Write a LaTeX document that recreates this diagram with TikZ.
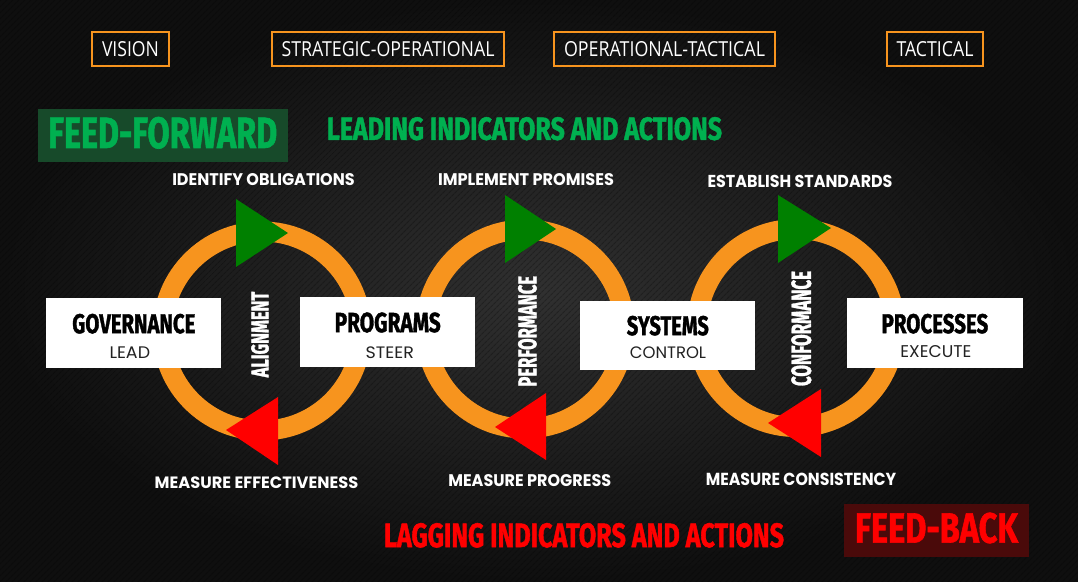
\documentclass[tikz,border=0pt]{standalone}
\usepackage{graphicx}
\usepackage{fontspec}
\setmainfont{Open Sans}
\newfontfamily\condf[BoldFeatures={FakeBold=1.6}]{Fira Sans}
\newfontfamily\labf{Poppins}
\newfontfamily\topf{Open Sans}
\usetikzlibrary{patterns.meta}
\definecolor{bgin}{HTML}{303030}
\definecolor{bgout}{HTML}{0F0F0F}
\definecolor{orangec}{HTML}{F7941E}
\definecolor{ffgreen}{HTML}{00B050}
\definecolor{ffbox}{HTML}{174A2A}
\definecolor{fbbox}{HTML}{4A0A0A}
\definecolor{trigreen}{HTML}{008000}
\definecolor{trired}{HTML}{FF0000}
\definecolor{subgray}{HTML}{222222}
\newcommand{\fitt}[3]{\resizebox{#1pt}{#2pt}{#3}}
\begin{document}
\begin{tikzpicture}[x=1pt,y=-1pt,
  txt/.style={inner sep=0pt, outer sep=0pt},
  topbox/.style={draw=orangec, line width=1.2pt, minimum height=34pt, inner sep=0pt, text=white, font=\topf\fontsize{20}{24}\selectfont},
  whitebox/.style={fill=white, inner sep=0pt, minimum height=70pt, minimum width=175pt},
  ring/.style={draw=orangec, line width=20pt},
  gtri/.style={fill=trigreen},
  rtri/.style={fill=trired},
  lab/.style={txt, text=white, font=\labf\bfseries\fontsize{20}{24}\selectfont},
  cond/.style={txt, font=\condf\bfseries\fontsize{30}{36}\selectfont},
  title/.style={txt, text=black, font=\condf\bfseries\fontsize{30}{36}\selectfont},
  sub/.style={txt, text=subgray, font=\labf\fontsize{20}{24}\selectfont},
  vlab/.style={txt, text=white, rotate=90, font=\condf\bfseries\fontsize{30}{36}\selectfont}
]
\useasboundingbox (0,0) rectangle (1078,581);
\shade[inner color=bgin, outer color=bgout] (0,0) rectangle (1078,581);
\fill[pattern={Lines[angle=45,distance=4pt,line width=1.2pt]}, pattern color=black, opacity=0.25] (0,0) rectangle (1078,581);

% top boxes
\node[topbox, minimum width=77pt] (vision) at (130.5,49) {\fitt{57}{15}{VISION}};
\node[topbox, minimum width=232pt] (stratop) at (388,49) {\fitt{213}{15}{STRATEGIC-OPERATIONAL}};
\node[topbox, minimum width=221pt] (optact) at (664.5,49) {\fitt{201}{15}{OPERATIONAL-TACTICAL}};
\node[topbox, minimum width=96pt] (tactical) at (935,49) {\fitt{77}{15}{TACTICAL}};

% feed-forward
\node[fill=ffbox, minimum width=250pt, minimum height=53pt, inner sep=0pt] (ffbox) at (163,135.5) {};
\node[cond, text=ffgreen] (fftext) at (162.7,132.8) {\fitt{229}{31}{FEED-FORWARD}};
\node[cond, text=ffgreen] (leading) at (524.5,128.7) {\fitt{395}{22.7}{LEADING INDICATORS AND ACTIONS}};

% rings
\draw[ring] (262,331) circle (99.5pt);
\draw[ring] (525,329) circle (99.5pt);
\draw[ring] (796,328) circle (99pt);

% triangles
\fill[gtri] (236,199) -- (236,267) -- (288,233) -- cycle;
\fill[gtri] (505,195) -- (505,263) -- (556,229) -- cycle;
\fill[gtri] (778,195) -- (778,263) -- (831,228) -- cycle;
\fill[rtri] (278,397) -- (278,465) -- (226,430) -- cycle;
\fill[rtri] (546,393) -- (546,460) -- (495,427) -- cycle;
\fill[rtri] (821,389) -- (821,457) -- (768,423) -- cycle;

% white boxes
\node[whitebox] (gov) at (133.5,333) {};
\node[whitebox] (prog) at (387.5,332) {};
\node[whitebox, minimum height=69pt] (sys) at (667.5,335.5) {};
\node[whitebox, minimum width=176pt] (proc) at (935,333) {};

\node[title] (govt) at (133.8,323.7) {\fitt{123}{19.3}{GOVERNANCE}};
\node[sub] (govs) at (129.8,352.5) {\fitt{40.6}{11.7}{LEAD}};
\node[title] (progt) at (387.7,322.5) {\fitt{106}{19.6}{PROGRAMS}};
\node[sub] (progs) at (389.8,352.5) {\fitt{48.2}{11.7}{STEER}};
\node[title] (syst) at (667.8,325.7) {\fitt{82}{19.3}{SYSTEMS}};
\node[sub] (syss) at (668,352.5) {\fitt{76.2}{11.7}{CONTROL}};
\node[title] (proct) at (934.9,323.7) {\fitt{106.7}{19.3}{PROCESSES}};
\node[sub] (procs) at (935.9,351.3) {\fitt{71}{12}{EXECUTE}};

% vertical labels
\node[vlab] (align) at (260,334.5) {\fitt{85.6}{17.2}{ALIGNMENT}};
\node[vlab] (perf) at (527.4,331.3) {\fitt{110.7}{18.3}{PERFORMANCE}};
\node[vlab] (conf) at (801.3,328.5) {\fitt{115}{19.6}{CONFORMANCE}};

% action labels
\node[lab] (idob) at (263.5,180) {\fitt{182.5}{12}{IDENTIFY OBLIGATIONS}};
\node[lab] (impr) at (526,180) {\fitt{176}{12}{IMPLEMENT PROMISES}};
\node[lab] (esst) at (800,181) {\fitt{185}{12.3}{ESTABLISH STANDARDS}};
\node[lab] (meef) at (256.5,483) {\fitt{203.5}{11.7}{MEASURE EFFECTIVENESS}};
\node[lab] (mepr) at (529.8,480.7) {\fitt{163}{12}{MEASURE PROGRESS}};
\node[lab] (meco) at (801,479.5) {\fitt{190.5}{12.4}{MEASURE CONSISTENCY}};

% feed-back
\node[cond, text=trired] (lagging) at (584,535.3) {\fitt{400}{24}{LAGGING INDICATORS AND ACTIONS}};
\node[fill=fbbox, minimum width=185pt, minimum height=53pt, inner sep=0pt] (fbbox) at (936.5,530.5) {};
\node[cond, text=trired] (fbtext) at (936.5,528) {\fitt{163}{30}{FEED-BACK}};
\end{tikzpicture}
\end{document}
